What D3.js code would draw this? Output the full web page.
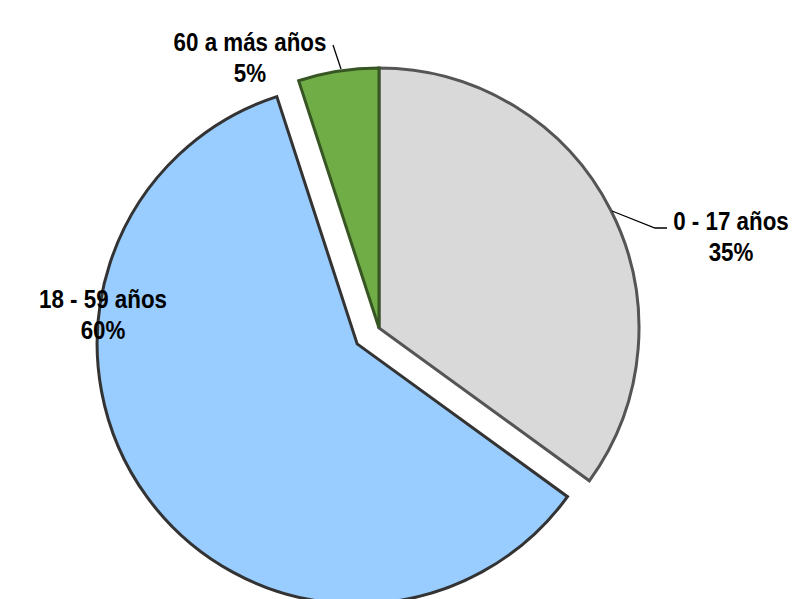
<!DOCTYPE html>
<html lang="es">
<head>
<meta charset="UTF-8">
<title>Pie</title>
<style>
  body { margin: 0; background: #fff; }
  text { font-family: "Liberation Sans", Arial, sans-serif; font-weight: bold; font-size: 26px; fill: #000; }
</style>
</head>
<body>
<svg id="svg" width="793" height="599"></svg>
<script src="https://d3js.org/d3.v7.min.js"></script>
<script>
const labels = ['0 - 17 años', '18 - 59 años', '60 a más años']
const values = [35, 60, 5]
const fills = ['#d9d9d9', '#99ccff', '#70ad47']
const strokes = ['#555555', '#333333', '#375623']
const explode = [0, 27, 0]

const cx = 379, cy = 328, r = 260

const svg = d3.select('#svg')
const g = svg.append('g').attr('transform', `translate(${cx},${cy})`)

const pie = d3.pie().sort(null).value(d => d)
const arcs = pie(values)
const arc = d3.arc().innerRadius(0).outerRadius(r)

// pull a slice out along its middle angle
const offset = (d, i) => {
  const a = (d.startAngle + d.endAngle) / 2
  return [Math.sin(a) * explode[i], -Math.cos(a) * explode[i]]
}

g.selectAll('path')
  .data(arcs)
  .enter()
  .append('path')
  .attr('d', arc)
  .attr('transform', (d, i) => `translate(${offset(d, i)})`)
  .attr('fill', (d, i) => fills[i])
  .attr('stroke', (d, i) => strokes[i])
  .attr('stroke-width', 3)
  .attr('stroke-linejoin', 'miter')

// label centre x and first baseline y, plus leader lines
const labelPos = [[731, 230], [103, 308], [250, 51]]
const leaders = [
  [[612, 211], [655, 228], [667, 228]],
  null,
  [[333, 45], [341, 69]]
]

leaders.forEach((pts, i) => {
  if (!pts) return
  svg.append('path')
    .attr('d', d3.line()(pts))
    .attr('fill', 'none')
    .attr('stroke', '#000')
    .attr('stroke-width', 1.3)
})

labels.forEach((lab, i) => {
  const t = svg.append('text')
    .attr('transform', `translate(${labelPos[i]}) scale(0.86,1)`)
    .attr('text-anchor', 'middle')
  t.append('tspan').attr('x', 0).attr('y', 0).text(lab)
  t.append('tspan').attr('x', 0).attr('y', 31).text(values[i] + '%')
})
</script>
</body>
</html>
